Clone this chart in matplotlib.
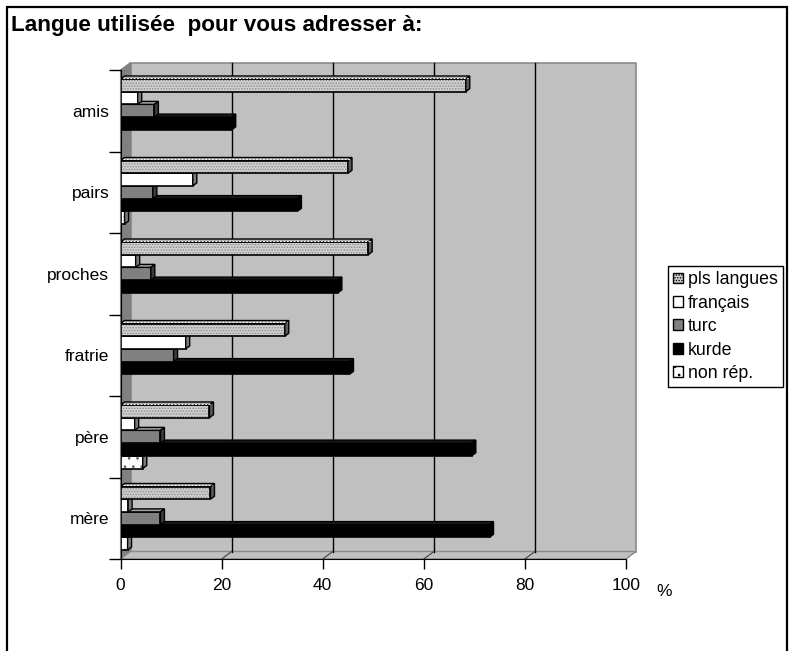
import matplotlib
matplotlib.use("Agg")
import matplotlib.pyplot as plt
from matplotlib.patches import Polygon, Rectangle, Patch
from matplotlib.transforms import offset_copy

plt.rcParams['font.family'] = ['Liberation Sans', 'DejaVu Sans']
plt.rcParams['hatch.linewidth'] = 0.7

# categories listed bottom to top
categories = ["mère", "père", "fratrie", "proches", "pairs", "amis"]
pls_langues = [17.8, 17.6, 32.5, 49.0, 45.0, 68.3]
francais = [1.5, 2.8, 12.9, 3.0, 14.3, 3.4]
turc = [7.9, 7.9, 10.5, 6.0, 6.4, 6.7]
kurde = [73.0, 69.5, 45.3, 43.0, 35.0, 22.0]
non_rep = [1.4, 4.4, 0.0, 0.0, 0.8, 0.0]
series_names = ["pls langues", "français", "turc", "kurde", "non rép."]
x_ticks = [0, 20, 40, 60, 80, 100]

# front / top / side colours and hatch per series
styles = [
    dict(front="#cfcfcf", top="#b4b4b4", side="#5a5a5a", hatch="......", hcol="#8a8a8a"),
    dict(front="white", top="white", side="#7a7a7a", hatch=None, hcol=None),
    dict(front="#808080", top="#a0a0a0", side="#3c3c3c", hatch=None, hcol=None),
    dict(front="black", top="#1a1a1a", side="black", hatch=None, hcol=None),
    dict(front="white", top="white", side="#7a7a7a", hatch="..", hcol="#606060"),
]
values = [pls_langues, francais, turc, kurde, non_rep]

W, H = 792, 651
fig = plt.figure(figsize=(W / 100, H / 100), dpi=100)

# front plane of the chart in pixels
x0, x1, ytop, ybot = 120.5, 626.0, 70.0, 559.0
ax = fig.add_axes([x0 / W, 1 - ybot / H, (x1 - x0) / W, (ybot - ytop) / H])
n = len(categories)
ax.set_xlim(0, 100)
ax.set_ylim(0, n)
ax.patch.set_visible(False)

px_x = 100 / (x1 - x0)
px_y = n / (ybot - ytop)

# walls: back wall offset by the chart depth
wdx, wdy = 10, 7.5
back = Rectangle((0, 0), 100, n, transform=offset_copy(ax.transData, fig, x=wdx, y=wdy, units='dots'),
                 facecolor="#c0c0c0", edgecolor="#8a8a8a", lw=1.2, zorder=0, clip_on=False)
ax.add_patch(back)
dxw, dyw = wdx * px_x, wdy * px_y
left_wall = Polygon([(0, 0), (0, n), (dxw, n + dyw), (dxw, dyw)], closed=True,
                    facecolor="#808080", edgecolor="#808080", lw=0.8, zorder=0.2, clip_on=False)
floor = Polygon([(0, 0), (100, 0), (100 + dxw, dyw), (dxw, dyw)], closed=True,
                facecolor="#c0c0c0", edgecolor="#8a8a8a", lw=1.0, zorder=0.2, clip_on=False)
ax.add_patch(left_wall)
ax.add_patch(floor)
for t in x_ticks[1:-1]:
    ax.plot([t + dxw, t + dxw], [dyw, n + dyw], color="black", lw=1, zorder=0.5, clip_on=False)
    ax.plot([t, t + dxw], [0, dyw], color="#404040", lw=0.8, zorder=0.5, clip_on=False)

# 3D bars
bh = 12.7 * px_y
bdx, bdy = 4 * px_x, 3 * px_y
ncat = len(series_names)
for k in range(ncat - 1, -1, -1):
    st = styles[k]
    ys = [i + 0.5 + (2 - k) * bh for i in range(n)]
    vals = values[k]
    yv = [y for y, v in zip(ys, vals) if v > 0]
    vv = [v for v in vals if v > 0]
    z = 2 + (ncat - k)
    if st["hatch"]:
        ax.barh(yv, vv, height=bh, left=0, color=st["front"], hatch=st["hatch"],
                edgecolor=st["hcol"], lw=0, zorder=z)
        ax.barh(yv, vv, height=bh, left=0, fill=False, edgecolor="black", lw=1.2, zorder=z)
    else:
        ax.barh(yv, vv, height=bh, left=0, color=st["front"], edgecolor="black", lw=1.2, zorder=z)
    for y, v in zip(yv, vv):
        top, bot = y + bh / 2, y - bh / 2
        topf = Polygon([(0, top), (v, top), (v + bdx, top + bdy), (bdx, top + bdy)], closed=True,
                       facecolor=st["top"], edgecolor="black", lw=1.0, zorder=z)
        side = Polygon([(v, top), (v + bdx, top + bdy), (v + bdx, bot + bdy), (v, bot)], closed=True,
                       facecolor=st["side"], edgecolor="black", lw=1.0, zorder=z)
        ax.add_patch(topf)
        ax.add_patch(side)
        if k == 0:
            ax.plot([bdx * 0.5, v + bdx * 0.5], [top + bdy * 0.5] * 2, color="#ffffff", lw=0.7,
                    ls=(0, (2, 1.5)), zorder=z)

# axes
for s in ["top", "right"]:
    ax.spines[s].set_visible(False)
ax.spines["left"].set_color("black")
ax.spines["bottom"].set_color("black")
ax.set_xticks(x_ticks)
ax.set_xticklabels([str(t) for t in x_ticks], fontsize=12.5)
ax.tick_params(axis="x", direction="out", length=7, width=1, pad=7)
ax.set_yticks(range(n + 1))
ax.set_yticklabels([])
ax.tick_params(axis="y", which="major", direction="out", length=9, width=1)
ax.set_yticks([i + 0.5 for i in range(n)], minor=True)
ax.set_yticklabels(categories, minor=True, fontsize=12.5)
ax.tick_params(axis="y", which="minor", length=0, pad=8)

fig.text(656 / W, 1 - 592 / H, "%", fontsize=12.5, ha="left", va="center")
fig.text(11 / W, 1 - 26 / H, "Langue utilisée  pour vous adresser à:", fontsize=16.2,
         fontweight="bold", ha="left", va="center")

handles = []
for name, st in zip(series_names, styles):
    handles.append(Patch(facecolor=st["front"], edgecolor="black", hatch=st["hatch"], lw=1, label=name))
leg = fig.legend(handles=handles, loc="upper left", bbox_to_anchor=(668 / W, 1 - 266 / H),
                 bbox_transform=fig.transFigure, fontsize=12.8, frameon=True, fancybox=False,
                 framealpha=1, edgecolor="black", handlelength=0.55, handleheight=0.55,
                 handletextpad=0.25, labelspacing=0.36, borderpad=0.3, borderaxespad=0)
leg.get_frame().set_linewidth(1)

# outer frame
fig.add_artist(Rectangle((7 / W, -0.02), 780 / W, 1.02 - 7 / H, transform=fig.transFigure,
                         fill=False, edgecolor="black", lw=1.6))

fig.savefig("out.png", dpi=100)
